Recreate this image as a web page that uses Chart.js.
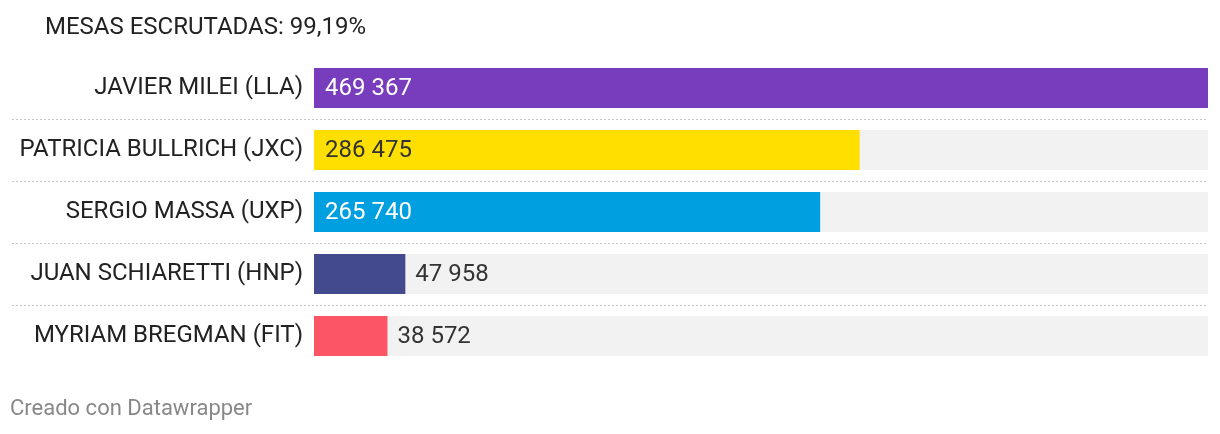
<!DOCTYPE html>
<html>
<head>
<meta charset="utf-8">
<script src="https://cdn.jsdelivr.net/npm/chart.js@4"></script>
<style>
  html, body { margin: 0; padding: 0; background: #fff; }
  body { width: 1220px; height: 434px; position: relative; overflow: hidden; font-family: Roboto, sans-serif; }
  #wrap { position: absolute; left: 0; top: 0; width: 1220px; height: 434px; }
  #title { position: absolute; left: 45px; top: 10px; font-size: 24px; line-height: 32px; color: #222; white-space: nowrap; }
  #foot { position: absolute; left: 10px; top: 392px; font-size: 22px; line-height: 32px; color: #888; white-space: nowrap; }
</style>
</head>
<body>
<div id="wrap"><canvas id="chart"></canvas></div>
<div id="title">MESAS ESCRUTADAS: 99,19%</div>
<div id="foot">Creado con Datawrapper</div>
<script>
var candidates = ['JAVIER MILEI (LLA)', 'PATRICIA BULLRICH (JXC)', 'SERGIO MASSA (UXP)', 'JUAN SCHIARETTI (HNP)', 'MYRIAM BREGMAN (FIT)'];
var votes = [469367, 286475, 265740, 47958, 38572];
var colors = ['#773dbd', '#ffdf00', '#009fe0', '#434a8e', '#fb5566'];
var labelColors = ['#fff', '#333', '#fff', '#333', '#333'];

var maxVotes = Math.max.apply(null, votes);

function fmt(n)
{
    return String(n).replace(/\B(?=(\d{3})+(?!\d))/g, ' ');
}

// dotted lines between rows, from the left edge to the right edge of the bars
var separators = {
    id: 'separators',
    beforeDatasetsDraw: function(chart) {
	var ctx = chart.ctx;
	var y = chart.scales.y;
	ctx.save();
	ctx.strokeStyle = '#c8c8c8';
	ctx.lineWidth = 1;
	ctx.setLineDash([2, 2]);
	for (var i = 0; i < candidates.length - 1; i++) {
	    var py = Math.round((y.getPixelForValue(i) + y.getPixelForValue(i + 1)) / 2) + 0.5;
	    ctx.beginPath();
	    ctx.moveTo(12, py);
	    ctx.lineTo(chart.chartArea.right, py);
	    ctx.stroke();
	}
	ctx.restore();
    }
};

// value labels, inside the bar if it fits, after it otherwise
var values = {
    id: 'values',
    afterDatasetsDraw: function(chart) {
	var ctx = chart.ctx;
	var meta = chart.getDatasetMeta(1);
	ctx.save();
	ctx.font = '24px Roboto';
	ctx.textBaseline = 'middle';
	ctx.textAlign = 'left';
	meta.data.forEach(function(bar, i) {
	    var txt = fmt(votes[i]);
	    var w = ctx.measureText(txt).width;
	    var left = bar.base;
	    var right = bar.x;
	    if (right - left > w + 30) {
		ctx.fillStyle = labelColors[i];
		ctx.fillText(txt, left + 11, bar.y + 1);
	    } else {
		ctx.fillStyle = '#333';
		ctx.fillText(txt, right + 10, bar.y + 1);
	    }
	});
	ctx.restore();
    }
};

new Chart(document.getElementById('chart'), {
    type: 'bar',
    data: {
	labels: candidates,
	datasets: [{
	    data: votes.map(function() { return maxVotes; }),
	    backgroundColor: '#f2f2f2',
	    grouped: false,
	    order: 2,
	    categoryPercentage: 1,
	    barPercentage: 40 / 62
	}, {
	    data: votes,
	    backgroundColor: colors,
	    grouped: false,
	    order: 1,
	    categoryPercentage: 1,
	    barPercentage: 40 / 62
	}]
    },
    options: {
	indexAxis: 'y',
	responsive: true,
	maintainAspectRatio: false,
	animation: false,
	layout: {
	    padding: { top: 57, bottom: 67, left: 0, right: 12 }
	},
	plugins: {
	    legend: { display: false },
	    tooltip: { enabled: false }
	},
	scales: {
	    x: {
		display: false,
		min: 0,
		max: maxVotes
	    },
	    y: {
		grid: { display: false },
		border: { display: false },
		ticks: {
		    color: '#222',
		    padding: 3,
		    font: { family: 'Roboto', size: 24 }
		},
		afterFit: function(s) { s.width = 314; }
	    }
	}
    },
    plugins: [separators, values]
});
</script>
</body>
</html>
